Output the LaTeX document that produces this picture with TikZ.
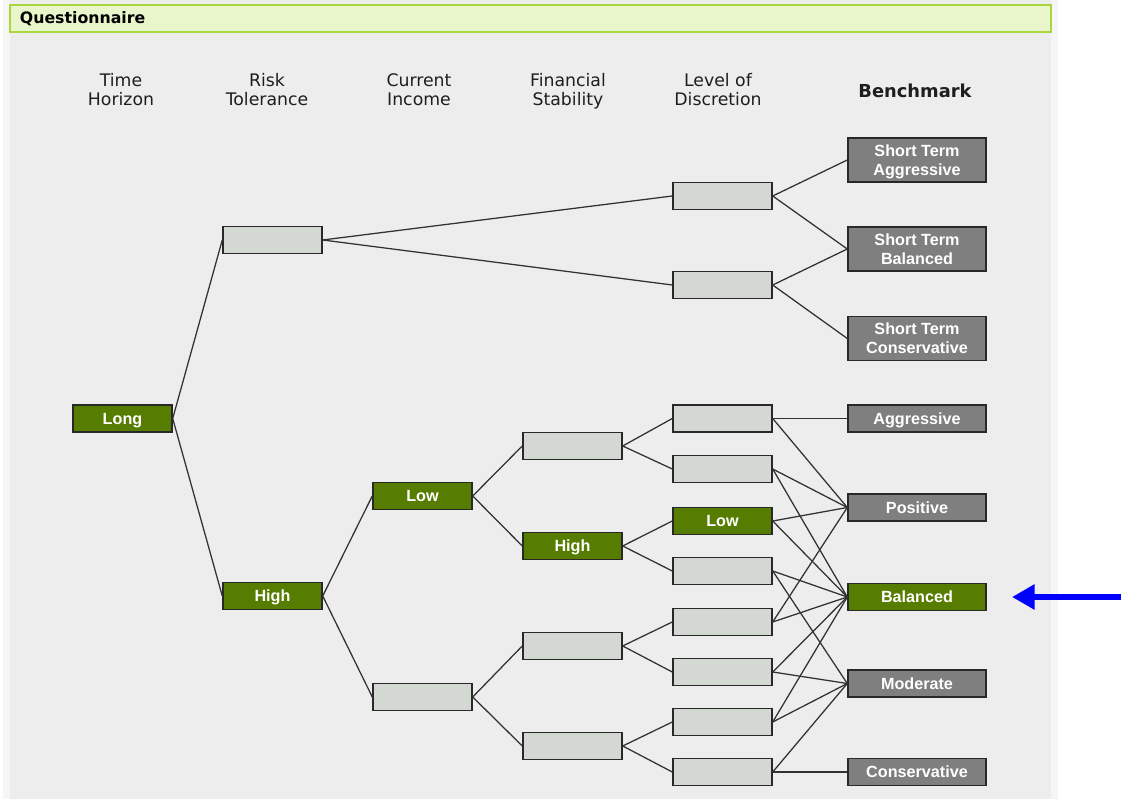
\documentclass[tikz,border=0pt]{standalone}
\usepackage{fontspec}
\setmainfont{DejaVu Sans}
\newfontfamily\boitefont{Liberation Sans}
\usepackage{tikz}
\usetikzlibrary{arrows.meta}
\definecolor{vert}{RGB}{86,125,0}
\definecolor{videgris}{RGB}{211,216,210}
\definecolor{ciblegris}{RGB}{127,127,127}
\definecolor{bord}{RGB}{40,40,40}
\definecolor{traitgris}{RGB}{50,50,50}
\definecolor{fond}{RGB}{237,237,237}
\definecolor{fondclair}{RGB}{246,246,246}
\definecolor{bandeau}{RGB}{233,245,203}
\definecolor{bandeaubord}{RGB}{168,214,60}
\definecolor{texte}{RGB}{30,30,30}

\begin{document}
\begin{tikzpicture}[x=0.025cm,y=-0.025cm]
\tikzstyle{trait}=[line width=0.9pt,draw=traitgris]
\tikzstyle{noeud}=[draw=bord,line width=1pt,fill=videgris,minimum width=2.475cm,minimum height=0.675cm,inner sep=0pt,text depth=0pt]
\tikzstyle{choix}=[noeud,fill=vert,text=white,font=\boitefont\bfseries\fontsize{11.5}{13.5}\selectfont]
\tikzstyle{cible}=[choix,fill=ciblegris,minimum width=3.45cm,align=center]
\tikzstyle{titre}=[align=center,text=texte,text depth=0pt,font=\fontsize{12.3}{13.5}\selectfont]
\tikzstyle{fleche}=[-{Triangle[length=16pt,width=17pt]},line width=4pt,draw=blue]
\def\ColA{122.5}
\def\ColB{272.5}
\def\ColC{422.5}
\def\ColD{572.5}
\def\ColE{722.5}
\def\ColF{917}
\useasboundingbox (0,0) rectangle (1121,799);
% fond et bandeau
\fill[fondclair] (3,0) rectangle (1058,799);
\fill[fond] (10,0) rectangle (1051,799);
\draw[fill=bandeau,draw=bandeaubord,line width=1.5pt] (10,5) rectangle (1051,32);
\node[anchor=west,text=black,font=\bfseries\fontsize{11.2}{13}\selectfont] (Q) at (15,18.5) {Questionnaire};
% titres des colonnes
\node[titre] (tA) at (121,89) {Time\strut\\Horizon};
\node[titre] (tB) at (267,89) {Risk\strut\\Tolerance};
\node[titre] (tC) at (419,89) {Current\strut\\Income};
\node[titre] (tD) at (568,89) {Financial\strut\\Stability};
\node[titre] (tE) at (718,89) {Level of\strut\\Discretion};
\node[titre,font=\bfseries\fontsize{12.7}{14}\selectfont] (tF) at (915,90.5) {Benchmark};
% arbre
\node[choix] (R) at (\ColA,418.5) {Long};
\node[noeud] (Ra) at (\ColB,240) {};
\node[choix] (Rb) at (\ColB,596) {High};
\node[choix] (Rba) at (\ColC,496) {Low};
\node[noeud] (Rbb) at (\ColC,697) {};
\node[noeud] (Rbaa) at (\ColD,446) {};
\node[choix] (Rbab) at (\ColD,546) {High};
\node[noeud] (Rbba) at (\ColD,646) {};
\node[noeud] (Rbbb) at (\ColD,746) {};
\node[noeud] (Raa) at (\ColE,196) {};
\node[noeud] (Rab) at (\ColE,285) {};
\node[noeud] (Rbaaa) at (\ColE,418.5) {};
\node[noeud] (Rbaab) at (\ColE,469) {};
\node[choix] (Rbaba) at (\ColE,521) {Low};
\node[noeud] (Rbabb) at (\ColE,571) {};
\node[noeud] (Rbbaa) at (\ColE,622) {};
\node[noeud] (Rbbab) at (\ColE,672) {};
\node[noeud] (Rbbba) at (\ColE,722) {};
\node[noeud] (Rbbbb) at (\ColE,772) {};
% benchmarks
\node[cible,minimum height=1.1cm] (CTA) at (\ColF,160) {Short Term\\Aggressive};
\node[cible,minimum height=1.1cm] (CTB) at (\ColF,249) {Short Term\\Balanced};
\node[cible,minimum height=1.1cm] (CTC) at (\ColF,338.5) {Short Term\\Conservative};
\node[cible] (CA) at (\ColF,418.5) {Aggressive};
\node[cible] (CP) at (\ColF,507.5) {Positive};
\node[cible,fill=vert] (CE) at (\ColF,597) {Balanced};
\node[cible] (CM) at (\ColF,683.5) {Moderate};
\node[cible] (CC) at (\ColF,772) {Conservative};
% liens
\foreach \a/\b in {R/Ra,R/Rb,Ra/Raa,Ra/Rab,Rb/Rba,Rb/Rbb,Rba/Rbaa,Rba/Rbab,Rbb/Rbba,Rbb/Rbbb,
  Rbaa/Rbaaa,Rbaa/Rbaab,Rbab/Rbaba,Rbab/Rbabb,Rbba/Rbbaa,Rbba/Rbbab,Rbbb/Rbbba,Rbbb/Rbbbb}
  \draw[trait] (\a.east)--(\b.west);
\foreach \a/\b in {Raa/CTA,Raa/CTB,Rab/CTB,Rab/CTC,
  Rbaaa/CA,Rbaaa/CP,Rbaab/CP,Rbaab/CE,Rbaba/CP,Rbaba/CE,Rbabb/CE,Rbabb/CM,
  Rbbaa/CP,Rbbaa/CE,Rbbab/CE,Rbbab/CM,Rbbba/CE,Rbbba/CM,Rbbbb/CM,Rbbbb/CC}
  \draw[trait] (\a.east)--(\b.west);
% fleche bleue
\coordinate (queue) at (1121,597);
\coordinate (pointe) at (1012,597);
\draw[fleche] (queue)--(pointe);
\end{tikzpicture}
\end{document}
